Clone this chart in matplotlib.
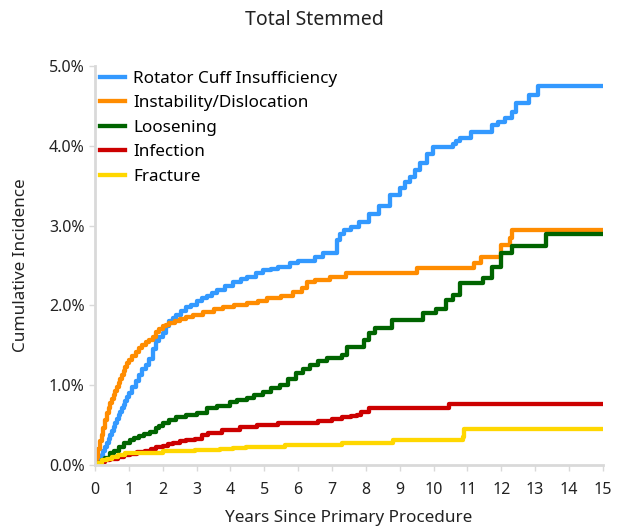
import matplotlib
matplotlib.use("Agg")
import matplotlib.pyplot as plt
from matplotlib.ticker import FuncFormatter

plt.rcParams['font.family'] = ['Noto Sans', 'DejaVu Sans']

# (years since primary procedure, cumulative incidence %) at each step
rotator = [(0, 0), (0.05, 0.02), (0.1, 0.05), (0.15, 0.08), (0.2, 0.12), (0.25, 0.17),
           (0.3, 0.22), (0.35, 0.27), (0.4, 0.32), (0.45, 0.37), (0.5, 0.42), (0.55, 0.47),
           (0.6, 0.52), (0.65, 0.57), (0.7, 0.62), (0.75, 0.66), (0.8, 0.71), (0.85, 0.75),
           (0.9, 0.8), (0.95, 0.85), (1.0, 0.9), (1.1, 0.98), (1.2, 1.05), (1.3, 1.13),
           (1.4, 1.2), (1.5, 1.25), (1.6, 1.33), (1.7, 1.45), (1.8, 1.55), (1.9, 1.6),
           (2.0, 1.65), (2.1, 1.74), (2.2, 1.8), (2.3, 1.84), (2.4, 1.88), (2.55, 1.93),
           (2.7, 1.98), (2.85, 2.01), (3.0, 2.05), (3.15, 2.09), (3.3, 2.12), (3.45, 2.16),
           (3.6, 2.19), (3.85, 2.24), (4.07, 2.29), (4.3, 2.33), (4.5, 2.36), (4.75, 2.4),
           (4.96, 2.44), (5.2, 2.46), (5.4, 2.48), (5.75, 2.53), (6.0, 2.55), (6.2, 2.56),
           (6.5, 2.6), (6.73, 2.66), (7.15, 2.82), (7.25, 2.9), (7.35, 2.95), (7.55, 2.98),
           (7.8, 3.05), (8.1, 3.15), (8.4, 3.25), (8.7, 3.38), (9.0, 3.47), (9.15, 3.55),
           (9.3, 3.61), (9.45, 3.7), (9.6, 3.78), (9.8, 3.9), (9.97, 3.98), (10.56, 4.02),
           (10.65, 4.06), (10.77, 4.1), (11.1, 4.17), (11.74, 4.26), (11.9, 4.3),
           (12.1, 4.35), (12.33, 4.42), (12.45, 4.53), (12.83, 4.64), (13.1, 4.75),
           (15, 4.75)]

instability = [(0, 0), (0.05, 0.1), (0.1, 0.2), (0.15, 0.3), (0.2, 0.38), (0.25, 0.46),
               (0.3, 0.56), (0.35, 0.65), (0.4, 0.71), (0.45, 0.78), (0.5, 0.83),
               (0.55, 0.88), (0.6, 0.93), (0.65, 0.98), (0.7, 1.03), (0.75, 1.08),
               (0.8, 1.13), (0.85, 1.18), (0.9, 1.23), (0.95, 1.28), (1.0, 1.32),
               (1.1, 1.37), (1.2, 1.42), (1.3, 1.47), (1.4, 1.5), (1.5, 1.54), (1.6, 1.57),
               (1.7, 1.6), (1.8, 1.67), (1.9, 1.71), (2.0, 1.74), (2.1, 1.76), (2.2, 1.78),
               (2.35, 1.8), (2.5, 1.83), (2.7, 1.86), (2.9, 1.88), (3.2, 1.92), (3.5, 1.95),
               (3.78, 1.98), (4.1, 2.0), (4.48, 2.03), (4.8, 2.06), (5.07, 2.09),
               (5.5, 2.12), (5.84, 2.17), (6.1, 2.22), (6.25, 2.29), (6.5, 2.32),
               (6.93, 2.36), (7.4, 2.4), (9.5, 2.47), (11.2, 2.53), (11.4, 2.61),
               (12.0, 2.76), (12.25, 2.84), (12.33, 2.94), (15, 2.94)]

loosening = [(0, 0), (0.1, 0.03), (0.2, 0.06), (0.3, 0.09), (0.44, 0.15), (0.55, 0.18),
             (0.7, 0.22), (0.85, 0.27), (1.03, 0.31), (1.15, 0.34), (1.3, 0.36),
             (1.45, 0.39), (1.62, 0.41), (1.8, 0.46), (1.9, 0.49), (2.0, 0.52), (2.2, 0.56),
             (2.4, 0.6), (2.7, 0.62), (3.0, 0.65), (3.3, 0.71), (3.6, 0.74), (3.98, 0.79),
             (4.2, 0.81), (4.48, 0.84), (4.7, 0.88), (4.96, 0.92), (5.2, 0.96), (5.46, 1.0),
             (5.7, 1.08), (5.95, 1.15), (6.15, 1.2), (6.34, 1.25), (6.6, 1.3), (6.84, 1.34),
             (7.3, 1.38), (7.43, 1.48), (7.96, 1.57), (8.1, 1.65), (8.26, 1.72),
             (8.76, 1.82), (9.68, 1.9), (10.08, 1.95), (10.38, 2.07), (10.56, 2.13),
             (10.77, 2.28), (11.45, 2.34), (11.74, 2.48), (12.0, 2.65), (12.33, 2.74),
             (13.33, 2.89), (15, 2.89)]

infection = [(0, 0), (0.1, 0.02), (0.2, 0.04), (0.3, 0.06), (0.44, 0.08), (0.68, 0.1),
             (0.85, 0.12), (1.03, 0.14), (1.25, 0.16), (1.47, 0.18), (1.65, 0.2),
             (1.8, 0.22), (2.0, 0.24), (2.15, 0.26), (2.3, 0.28), (2.5, 0.3), (2.7, 0.31),
             (2.95, 0.33), (3.15, 0.37), (3.33, 0.4), (3.75, 0.44), (4.28, 0.48),
             (4.78, 0.5), (5.4, 0.53), (6.58, 0.55), (7.0, 0.58), (7.3, 0.6), (7.55, 0.61),
             (7.73, 0.63), (7.87, 0.66), (8.1, 0.71), (10.47, 0.77), (15, 0.77)]

fracture = [(0, 0), (0.1, 0.03), (0.2, 0.06), (0.35, 0.08), (0.5, 0.1), (0.68, 0.12),
            (0.9, 0.15), (2.0, 0.17), (2.95, 0.19), (3.7, 0.2), (4.07, 0.21), (4.47, 0.23),
            (5.6, 0.25), (7.3, 0.27), (8.8, 0.31), (10.86, 0.35), (10.9, 0.45), (15, 0.45)]

series = [
    ('Rotator Cuff Insufficiency', rotator, '#3399FF'),
    ('Instability/Dislocation', instability, '#FF8C00'),
    ('Loosening', loosening, '#006400'),
    ('Infection', infection, '#CC0000'),
    ('Fracture', fracture, '#FFD700'),
]

fig = plt.figure(figsize=(6.17, 5.32), dpi=100)
ax = fig.add_axes([0.154, 0.126, 0.823, 0.75])

for name, pts, c in series:
    xs = [p[0] for p in pts]
    ys = [p[1] for p in pts]
    ax.step(xs, ys, where='post', color=c, lw=3.1, label=name)

ax.set_xlim(0, 15)
ax.set_ylim(0, 5)
ax.set_xticks(range(0, 16))
ax.set_yticks([0, 1, 2, 3, 4, 5])
ax.yaxis.set_major_formatter(FuncFormatter(lambda v, p: '%.1f%%' % v))

for s in ['top', 'right']:
    ax.spines[s].set_visible(False)
for s in ['left', 'bottom']:
    ax.spines[s].set_color('#D9D9D9')
    ax.spines[s].set_linewidth(2)
ax.tick_params(color='#D9D9D9', length=4, width=1, labelsize=11.5, labelcolor='#222222')
ax.tick_params(axis='x', pad=8)

fig.suptitle('Total Stemmed', x=0.51, y=0.962, va='center', fontsize=14, color='#222222')
ax.set_xlabel('Years Since Primary Procedure', fontsize=12.3, color='#222222', labelpad=9)
ax.set_ylabel('Cumulative Incidence', fontsize=12.3, color='#222222', labelpad=14)

ax.legend(loc='upper left', bbox_to_anchor=(-0.004, 1.005), frameon=False, fontsize=12.3,
          handlelength=1.5, handletextpad=0.45, labelspacing=0.5, borderaxespad=0)

fig.savefig('out.png', dpi=100)
